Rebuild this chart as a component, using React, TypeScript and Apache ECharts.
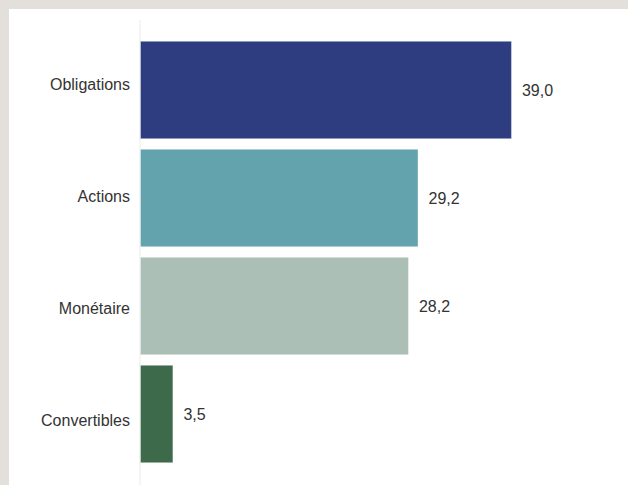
import React, { useEffect, useRef } from "react";
import * as echarts from "echarts";

const categories = ["Obligations", "Actions", "Monétaire", "Convertibles"];
const values = [39.0, 29.2, 28.2, 3.5];
const colors = ["#2e3d7f", "#62a3ae", "#abbfb6", "#3e6a4c"];

const FONT = "Liberation Sans, Arial, sans-serif";

export default function App() {
  const ref = useRef<HTMLDivElement>(null);
  useEffect(() => {
    if (!ref.current) return;
    const chart = echarts.init(ref.current, null, { renderer: "svg" });
    chart.setOption({
      animation: false,
      backgroundColor: "#ffffff",
      grid: [
        { left: 131, right: 106.5, top: 27, bottom: 17, containLabel: false },
        { left: 131, right: 106.5, top: 20, bottom: 9, containLabel: false },
      ],
      xAxis: [
        { type: "value", min: 0, max: 40, show: false, gridIndex: 0 },
        { type: "value", min: 0, max: 40, show: false, gridIndex: 1 },
      ],
      yAxis: [
        {
          type: "category",
          gridIndex: 0,
          data: categories,
          inverse: true,
          axisLine: { show: false },
          axisTick: { show: false },
          splitLine: { show: false },
          axisLabel: { show: false },
        },
        {
          type: "category",
          gridIndex: 1,
          data: categories,
          inverse: true,
          axisLine: { show: false },
          axisTick: { show: false },
          splitLine: { show: false },
          axisLabel: {
            color: "#333333",
            fontSize: 16,
            fontFamily: FONT,
            margin: 10,
          },
        },
      ],
      graphic: [
        {
          type: "line",
          shape: { x1: 131, y1: 11, x2: 131, y2: 476 },
          style: { stroke: "#ebebeb", lineWidth: 1 },
          z: 0,
        },
      ],
      series: [
        {
          type: "bar",
          xAxisIndex: 0,
          yAxisIndex: 0,
          data: values.map((v, i) => ({
            value: v,
            itemStyle: { color: colors[i], borderColor: "rgba(255,255,255,0.35)", borderWidth: 1 },
          })),
          barCategoryGap: "9%",
          label: {
            show: true,
            position: "right",
            distance: 10,
            color: "#333333",
            fontSize: 16,
            fontFamily: FONT,
            formatter: (p: any) => p.value.toFixed(1).replace(".", ","),
          },
        },
      ],
    });
    return () => chart.dispose();
  }, []);
  return (
    <div style={{ position: "fixed", inset: 0, background: "#e3dfda" }}>
      <div
        ref={ref}
        style={{ position: "absolute", left: 9, top: 9, width: 619, height: 476, background: "#ffffff" }}
      />
    </div>
  );
}
